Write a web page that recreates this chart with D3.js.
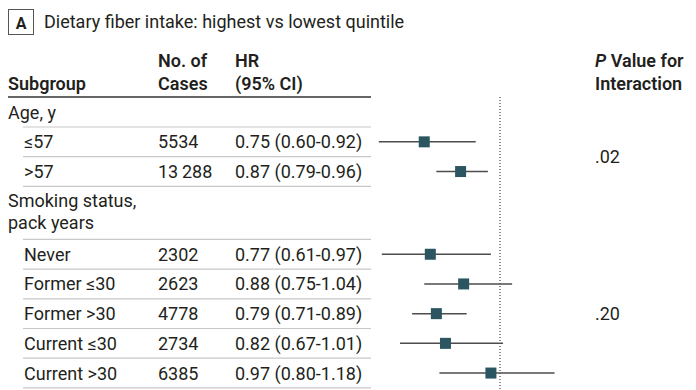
<!DOCTYPE html>
<html>
<head>
<meta charset="utf-8">
<script src="https://cdn.jsdelivr.net/npm/d3@7"></script>
<style>
  body { margin: 0; background: #fff; }
  text { font-family: Roboto, "Open Sans", sans-serif; fill: #231f20; }
</style>
</head>
<body>
<div id="chart"></div>
<script>
// Data
var groupLabels = [["Age, y"], ["Smoking status,", "pack years"]];
var subgroups = ["\u226457", ">57", "Never", "Former \u226430", "Former >30", "Current \u226430", "Current >30"];
var groupOf = [0, 0, 1, 1, 1, 1, 1];
var cases = ["5534", "13\u2009288", "2302", "2623", "4778", "2734", "6385"];
var hr = [0.75, 0.87, 0.77, 0.88, 0.79, 0.82, 0.97];
var lo = [0.60, 0.79, 0.61, 0.75, 0.71, 0.67, 0.80];
var hi = [0.92, 0.96, 0.97, 1.04, 0.89, 1.01, 1.18];
var pInteraction = [".02", ".20"];

var width = 696,
    height = 390,
    fontSize = 18,
    rowH = 29.7,
    headTop = 97;

var fmt = d3.format(".2f");

var svg = d3.select('#chart').append('svg')
    .attr('width', width)
    .attr('height', height);

// x scale for hazard ratio (linear, 1.0 at the dotted line)
var x = d3.scaleLinear().domain([0.6, 1.2]).range([378.8, 560.6]);

// Title
svg.append('rect')
    .attr('x', 8.5).attr('y', 9.5)
    .attr('width', 25).attr('height', 25)
    .attr('fill', 'none').attr('stroke', '#555').attr('stroke-width', 1);
svg.append('text')
    .attr('x', 21).attr('y', 28.5)
    .attr('text-anchor', 'middle')
    .style('font-size', '16px').style('font-weight', 700)
    .text('A');
svg.append('text')
    .attr('x', 44).attr('y', 28)
    .style('font-size', fontSize + 'px')
    .text('Dietary fiber intake: highest vs lowest quintile');

// Column headers
var head = svg.append('g').style('font-size', fontSize + 'px').style('font-weight', 600);
head.append('text').attr('x', 8).attr('y', 90).text('Subgroup');
head.append('text').attr('x', 158).attr('y', 67).text('No. of');
head.append('text').attr('x', 158).attr('y', 90).text('Cases');
head.append('text').attr('x', 235).attr('y', 67).text('HR');
head.append('text').attr('x', 235).attr('y', 90).text('(95% CI)');
var pHead = head.append('text').attr('x', 595).attr('y', 67);
pHead.append('tspan').style('font-style', 'italic').text('P');
pHead.append('tspan').text(' Value for');
head.append('text').attr('x', 595).attr('y', 90).text('Interaction');

svg.append('line')
    .attr('x1', 8).attr('x2', 371)
    .attr('y1', headTop).attr('y2', headTop)
    .attr('stroke', '#333').attr('stroke-width', 1.5);

// Build row layout
var rows = [], y = headTop, prevGroup = -1, itemY = [];
subgroups.forEach(function(s, i) {
  if (groupOf[i] !== prevGroup) {
    var lines = groupLabels[groupOf[i]];
    var h = lines.length === 1 ? 30 : 53;
    rows.push({ type: 'group', lines: lines, y0: y, y1: y + h });
    y += h;
    prevGroup = groupOf[i];
  }
  rows.push({ type: 'item', i: i, y0: y, y1: y + rowH });
  itemY[i] = y + rowH / 2;
  y += rowH;
});

var body = svg.append('g').style('font-size', fontSize + 'px');

rows.forEach(function(r) {
  // separator under each row
  body.append('line')
      .attr('x1', 23).attr('x2', 371)
      .attr('y1', r.y1).attr('y2', r.y1)
      .attr('stroke', '#c8c8c8').attr('stroke-width', 1.2);

  if (r.type === 'group') {
    r.lines.forEach(function(l, k) {
      body.append('text')
          .attr('x', 8)
          .attr('y', r.lines.length === 1 ? (r.y0 + r.y1) / 2 + 6.5 : r.y0 + 21 + k * 22)
          .text(l);
    });
  } else {
    var cy = (r.y0 + r.y1) / 2 + 6.5;
    body.append('text').attr('x', 24).attr('y', cy).text(subgroups[r.i]);
    body.append('text').attr('x', 158).attr('y', cy).text(cases[r.i]);
    body.append('text').attr('x', 235).attr('y', cy)
        .text(fmt(hr[r.i]) + ' (' + fmt(lo[r.i]) + '-' + fmt(hi[r.i]) + ')');
  }
});

// Reference line at HR = 1
svg.append('line')
    .attr('x1', x(1)).attr('x2', x(1))
    .attr('y1', headTop).attr('y2', height)
    .attr('stroke', '#222').attr('stroke-width', 1)
    .attr('stroke-dasharray', '1,2');

// CI lines and markers
var marks = svg.append('g');
marks.selectAll('.ci')
    .data(subgroups)
  .enter().append('line')
    .attr('class', 'ci')
    .attr('x1', function(d, i) { return x(lo[i]); })
    .attr('x2', function(d, i) { return x(hi[i]); })
    .attr('y1', function(d, i) { return itemY[i]; })
    .attr('y2', function(d, i) { return itemY[i]; })
    .attr('stroke', '#4d4d4d').attr('stroke-width', 1.5);

var sq = 11;
marks.selectAll('.pt')
    .data(subgroups)
  .enter().append('rect')
    .attr('class', 'pt')
    .attr('x', function(d, i) { return x(hr[i]) - sq / 2; })
    .attr('y', function(d, i) { return itemY[i] - sq / 2; })
    .attr('width', sq).attr('height', sq)
    .attr('fill', '#2b5560');

// P values for interaction
svg.append('text').attr('x', 595)
    .attr('y', (itemY[0] + itemY[1]) / 2 + 6.5)
    .style('font-size', fontSize + 'px')
    .text(pInteraction[0]);
svg.append('text').attr('x', 595)
    .attr('y', itemY[4] + 6.5)
    .style('font-size', fontSize + 'px')
    .text(pInteraction[1]);
</script>
</body>
</html>
